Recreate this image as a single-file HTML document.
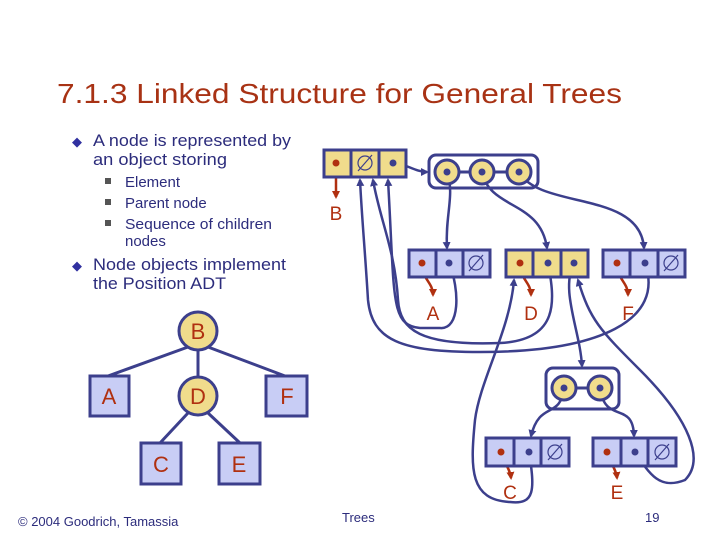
<!DOCTYPE html>
<html><head><meta charset="utf-8"><style>
body{margin:0;background:#fff;}
svg{display:block;font-family:"Liberation Sans",sans-serif;}
</style></head><body>
<svg width="720" height="540" viewBox="0 0 720 540" xmlns="http://www.w3.org/2000/svg">
<defs>
<marker id="ab" markerWidth="8" markerHeight="8" refX="6" refY="4" orient="auto" markerUnits="userSpaceOnUse"><path d="M0,0 L8,4 L0,8 z" fill="#3c3f8c"/></marker>
<marker id="ar" markerWidth="8" markerHeight="8" refX="6" refY="4" orient="auto" markerUnits="userSpaceOnUse"><path d="M0,0 L8,4 L0,8 z" fill="#b03010"/></marker>
</defs>
<text x="57" y="103" font-size="28" fill="#a83214" textLength="565" lengthAdjust="spacingAndGlyphs">7.1.3 Linked Structure for General Trees</text>
<g fill="#2c2c7c" font-size="16.5">
<text x="72" y="146" font-size="13" fill="#3030a0">◆</text>
<text x="93" y="146" textLength="198" lengthAdjust="spacingAndGlyphs">A node is represented by</text>
<text x="93" y="165" textLength="134" lengthAdjust="spacingAndGlyphs">an object storing</text>
<text x="72" y="270" font-size="13" fill="#3030a0">◆</text>
<text x="93" y="270" textLength="193" lengthAdjust="spacingAndGlyphs">Node objects implement</text>
<text x="93" y="289" textLength="133" lengthAdjust="spacingAndGlyphs">the Position ADT</text>
</g>
<g fill="#2c2c7c" font-size="15">
<rect x="105" y="178" width="6" height="6" fill="#555"/><text x="125" y="187">Element</text>
<rect x="105" y="199" width="6" height="6" fill="#555"/><text x="125" y="208">Parent node</text>
<rect x="105" y="220" width="6" height="6" fill="#555"/><text x="125" y="229" textLength="147" lengthAdjust="spacingAndGlyphs">Sequence of children</text>
<text x="125" y="246">nodes</text>
</g>
<!-- tree -->
<g stroke="#3c3f8c" stroke-width="3">
<line x1="188" y1="347" x2="108" y2="376"/><line x1="208" y1="347" x2="285" y2="376"/>
<line x1="198" y1="350" x2="198" y2="376"/>
<line x1="188" y1="413" x2="160" y2="443"/><line x1="208" y1="413" x2="240" y2="443"/>
<circle cx="198" cy="331" r="19" fill="#f0dc8c"/>
<circle cx="198" cy="396" r="19" fill="#f0dc8c"/>
<rect x="90" y="376" width="39" height="40" fill="#c8cdf5"/>
<rect x="266" y="376" width="41" height="40" fill="#c8cdf5"/>
<rect x="141" y="443" width="40" height="41" fill="#c8cdf5"/>
<rect x="219" y="443" width="41" height="41" fill="#c8cdf5"/>
</g>
<g fill="#b03010" font-size="22" text-anchor="middle">
<text x="198" y="339">B</text><text x="198" y="404">D</text><text x="109" y="404">A</text>
<text x="287" y="404">F</text><text x="161" y="472">C</text><text x="239" y="472">E</text>
</g>
<!-- curves -->
<g fill="none" stroke="#3c3f8c" stroke-width="2.5">
<path d="M393,163 C405,163 415,172 427,172" marker-end="url(#ab)"/>
<path d="M447,172 C455,195 445,215 447,248" marker-end="url(#ab)"/>
<path d="M482,172 C490,210 540,200 547,248" marker-end="url(#ab)"/>
<path d="M519,172 C540,210 640,190 644,248" marker-end="url(#ab)"/>
<path d="M449,263 C460,290 460,330 440,328 L420,328 C390,325 395,300 388,180" marker-end="url(#ab)"/>
<path d="M548,263 C555,300 560,340 500,343 C420,346 400,330 398,300 C395,250 380,220 373,180" marker-end="url(#ab)"/>
<path d="M645,263 C665,320 600,352 480,352 C400,352 372,340 368,300 C365,250 362,220 360,180" marker-end="url(#ab)"/>
<path d="M574,263 C560,290 580,330 582,366" marker-end="url(#ab)"/>
<path d="M564,388 C560,420 540,400 531,436" marker-end="url(#ab)"/>
<path d="M600,388 C605,425 633,400 634,436" marker-end="url(#ab)"/>
<path d="M529,452 C535,490 535,505 510,502 C470,500 470,470 475,420 C480,380 510,330 514,280" marker-end="url(#ab)"/>
<path d="M635,452 C650,475 660,490 685,480 C705,460 690,420 640,370 C600,330 590,320 578,280" marker-end="url(#ab)"/>
</g>
<g fill="none" stroke="#b03010" stroke-width="2.5">
<path d="M336,163 L336,197" marker-end="url(#ar)"/>
<path d="M422,263 C422,280 433,282 433,295" marker-end="url(#ar)"/>
<path d="M520,263 C520,280 531,282 531,295" marker-end="url(#ar)"/>
<path d="M617,263 C617,280 628,282 628,295" marker-end="url(#ar)"/>
<path d="M501,452 C503,462 510,468 511,478" marker-end="url(#ar)"/>
<path d="M607,452 C609,462 616,468 617,478" marker-end="url(#ar)"/>
</g>
<!-- nodes -->
<g stroke="#3c3f8c" stroke-width="3">
<rect x="324" y="150" width="82" height="27" fill="#f0dc8c"/>
<line x1="351" y1="150" x2="351" y2="177"/><line x1="379" y1="150" x2="379" y2="177"/>
<rect x="429" y="155" width="109" height="33" rx="7" fill="none"/>
<line x1="447" y1="172" x2="519" y2="172"/>
<circle cx="447" cy="172" r="12" fill="#f0dc8c"/><circle cx="482" cy="172" r="12" fill="#f0dc8c"/><circle cx="519" cy="172" r="12" fill="#f0dc8c"/>
<rect x="409" y="250" width="81" height="27" fill="#c8cdf5"/>
<line x1="436" y1="250" x2="436" y2="277"/><line x1="463" y1="250" x2="463" y2="277"/>
<rect x="506" y="250" width="82" height="27" fill="#f0dc8c"/>
<line x1="533" y1="250" x2="533" y2="277"/><line x1="561" y1="250" x2="561" y2="277"/>
<rect x="603" y="250" width="82" height="27" fill="#c8cdf5"/>
<line x1="630" y1="250" x2="630" y2="277"/><line x1="658" y1="250" x2="658" y2="277"/>
<rect x="546" y="368" width="73" height="41" rx="7" fill="none"/>
<line x1="564" y1="388" x2="600" y2="388"/>
<circle cx="564" cy="388" r="12" fill="#f0dc8c"/><circle cx="600" cy="388" r="12" fill="#f0dc8c"/>
<rect x="486" y="438" width="83" height="28" fill="#c8cdf5"/>
<line x1="514" y1="438" x2="514" y2="466"/><line x1="541" y1="438" x2="541" y2="466"/>
<rect x="593" y="438" width="83" height="28" fill="#c8cdf5"/>
<line x1="621" y1="438" x2="621" y2="466"/><line x1="648" y1="438" x2="648" y2="466"/>
</g>
<g fill="none" stroke="#3c3f8c" stroke-width="1.2">
<circle cx="365" cy="163" r="7"/><line x1="358" y1="171" x2="372" y2="155"/>
<circle cx="476" cy="263" r="7"/><line x1="469" y1="271" x2="483" y2="255"/>
<circle cx="671" cy="263" r="7"/><line x1="664" y1="271" x2="678" y2="255"/>
<circle cx="555" cy="452" r="7"/><line x1="548" y1="460" x2="562" y2="444"/>
<circle cx="662" cy="452" r="7"/><line x1="655" y1="460" x2="669" y2="444"/>
</g>
<g fill="#3c3f8c">
<circle cx="393" cy="163" r="3.5"/><circle cx="447" cy="172" r="3.5"/><circle cx="482" cy="172" r="3.5"/><circle cx="519" cy="172" r="3.5"/>
<circle cx="449" cy="263" r="3.5"/><circle cx="548" cy="263" r="3.5"/><circle cx="574" cy="263" r="3.5"/><circle cx="645" cy="263" r="3.5"/>
<circle cx="564" cy="388" r="3.5"/><circle cx="600" cy="388" r="3.5"/><circle cx="529" cy="452" r="3.5"/><circle cx="635" cy="452" r="3.5"/>
</g>
<g fill="#b03010">
<circle cx="336" cy="163" r="3.5"/><circle cx="422" cy="263" r="3.5"/><circle cx="520" cy="263" r="3.5"/><circle cx="617" cy="263" r="3.5"/>
<circle cx="501" cy="452" r="3.5"/><circle cx="607" cy="452" r="3.5"/>
</g>
<g fill="#b03010" font-size="19" text-anchor="middle">
<text x="336" y="220">B</text><text x="433" y="320">A</text><text x="531" y="320">D</text><text x="628" y="320">F</text>
<text x="510" y="499">C</text><text x="617" y="499">E</text>
</g>
<g fill="#2c2c7c" font-size="13">
<text x="18" y="526">© 2004 Goodrich, Tamassia</text>
<text x="342" y="522">Trees</text>
<text x="645" y="522">19</text>
</g>
</svg>
</body></html>
